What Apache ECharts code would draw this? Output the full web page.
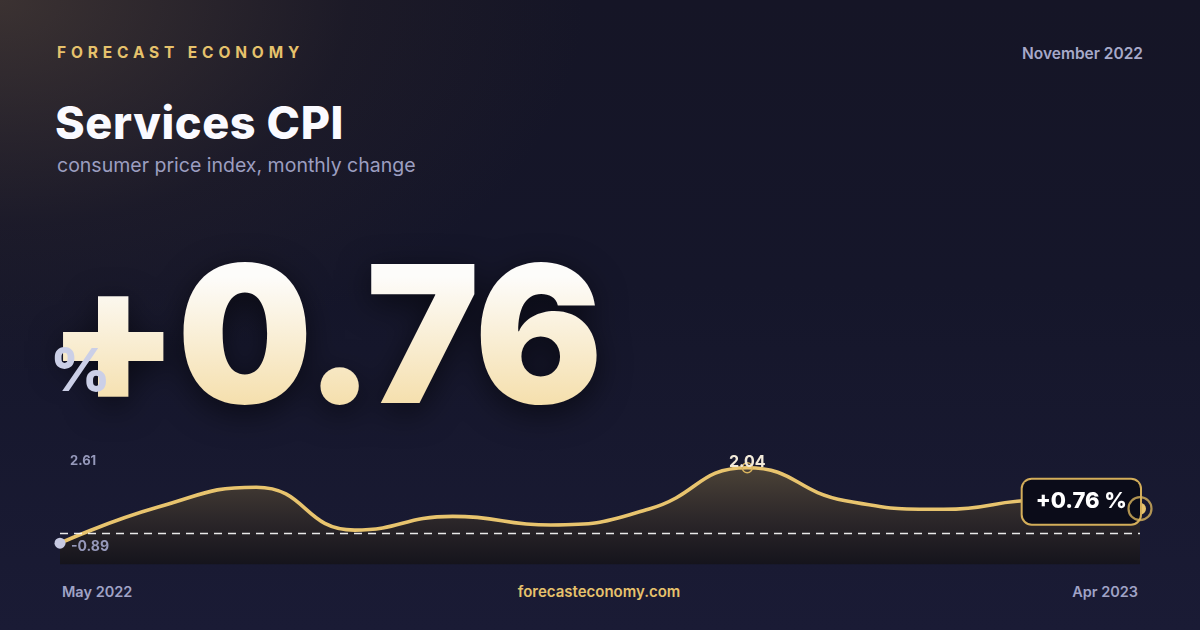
<!DOCTYPE html>
<html>
<head>
<meta charset="utf-8">
<script src="https://cdn.jsdelivr.net/npm/echarts@6/dist/echarts.min.js"></script>
<style>
  html, body { margin:0; padding:0; width:1200px; height:630px; overflow:hidden; }
  body {
    font-family: Inter, "Noto Sans", sans-serif;
    background:
      radial-gradient(ellipse 780px 500px at 0% 0%, rgba(112,90,66,0.42) 0%, rgba(60,48,44,0.18) 45%, rgba(0,0,0,0) 75%),
      linear-gradient(180deg, #151526 0%, #15162a 45%, #1a1b35 100%);
    position: relative;
  }
  .t { position:absolute; white-space:nowrap; }
  #brand { left:57px; top:43px; font-size:15.5px; font-weight:700; letter-spacing:4.85px; color:#e6c26c; }
  #date { right:57px; top:44px; font-size:15.5px; font-weight:600; color:#a7a9c9; }
  #title { left:55px; top:95px; font-size:45px; font-weight:800; color:#fafaff; letter-spacing:0.6px; }
  #sub { left:57px; top:153px; font-size:19.5px; font-weight:400; color:#9c9ec0; }
  #big { left:47px; top:238px; font-size:191px; font-weight:900; line-height:1; letter-spacing:-2.5px;
         background: linear-gradient(180deg, #fdfcfa 20%, #f4dca4 95%);
         -webkit-background-clip:text; background-clip:text; color:transparent;
         filter: drop-shadow(0 8px 16px rgba(0,0,0,0.55)); }
  #pct { left:50px; top:334px; font-size:59px; font-weight:800; color:#cbcfe7; }
  #foot1 { left:62px; top:583px; font-size:14.5px; font-weight:600; color:#a0a3c6; }
  #foot2 { left:599px; top:582px; transform:translateX(-50%); font-size:15px; font-weight:600; color:#e6c26c; }
  #foot3 { right:62px; top:583px; font-size:14.5px; font-weight:600; color:#a0a3c6; }
  #chart { position:absolute; left:0; top:0; width:1200px; height:630px; }
</style>
</head>
<body>
<div class="t" id="brand">FORECAST ECONOMY</div>
<div class="t" id="date">November 2022</div>
<div class="t" id="title">Services CPI</div>
<div class="t" id="sub">consumer price index, monthly change</div>
<div class="t" id="big">+0.76</div>
<div class="t" id="pct">%</div>
<div class="t" id="foot1">May 2022</div>
<div class="t" id="foot2">forecasteconomy.com</div>
<div class="t" id="foot3">Apr 2023</div>
<div id="chart"></div>
<script>
// ---- data ----
const months = ['May 2022','Jun 2022','Jul 2022','Aug 2022','Sep 2022','Oct 2022','Nov 2022','Dec 2022','Jan 2023','Feb 2023','Mar 2023','Apr 2023'];
const values = [-0.32, 0.81, 1.43, 0.09, 0.52, 0.25, 0.75, 2.04, 1.01, 0.74, 1.03, 0.76];
const rangeLabels = ['2.61', '-0.89'];
const lastLabel = '+0.76 %';

const GOLD = '#e8c46e';
const lastIdx = values.length - 1;
const peakIdx = values.indexOf(Math.max.apply(null, values));

const lineData = values.map(function (v, i) {
  if (i === 0) {
    return { value: v, symbol: 'circle', symbolSize: 11,
             itemStyle: { color: '#c6c9e2', borderWidth: 0 } };
  }
  if (i === peakIdx) {
    return { value: v, symbol: 'circle', symbolSize: 10,
             itemStyle: { color: 'rgba(0,0,0,0)', borderColor: '#d9b45e', borderWidth: 1.5 },
             label: { show: true, position: 'inside', offset: [0, -6], formatter: String(v.toFixed(2)),
                      color: '#f2ead9', fontSize: 16, fontWeight: 700, fontFamily: 'Inter' } };
  }
  if (i === lastIdx) {
    return { value: v, symbol: 'circle', symbolSize: 12,
             itemStyle: { color: GOLD, borderWidth: 0 },
             label: { show: true, position: [6, -1], align: 'right', verticalAlign: 'middle',
                      formatter: lastLabel, color: '#ffffff', fontSize: 22, fontWeight: 800,
                      fontFamily: 'Inter', lineHeight: 24, padding: [10, 13, 10, 13],
                      backgroundColor: '#0b0c19', borderColor: '#d4ae5a', borderWidth: 2, borderRadius: 9 } };
  }
  return { value: v, symbol: 'none' };
});

const ringData = values.map(function (v, i) { return i === lastIdx ? v : null; });

const chart = echarts.init(document.getElementById('chart'), null, { renderer: 'canvas' });
chart.setOption({
  backgroundColor: 'transparent',
  animation: false,
  grid: { left: 60, right: 60, top: 449.5, bottom: 65.7 },
  xAxis: { type: 'category', data: months, boundaryGap: false, show: false },
  yAxis: { type: 'value', min: -0.98, max: 2.61, show: false },
  graphic: [
    { type: 'text', left: 70, top: 455, z: 10,
      style: { text: rangeLabels[0], fill: '#9598ba', font: '700 13px Inter' } },
    { type: 'text', left: 71, top: 540, z: 10,
      style: { text: rangeLabels[1], fill: '#9598ba', font: '700 14px Inter' } }
  ],
  series: [
    {
      type: 'line',
      data: lineData,
      smooth: 0.5,
      symbol: 'none',
      showSymbol: true,
      z: 3,
      lineStyle: { color: GOLD, width: 3.6 },
      areaStyle: {
        origin: 'start',
        opacity: 1,
        color: new echarts.graphic.LinearGradient(0, 0, 0, 1, [
          { offset: 0, color: '#4b4237' },
          { offset: 0.55, color: '#2b2629' },
          { offset: 1, color: '#15141c' }
        ])
      },
      markLine: {
        silent: true,
        symbol: 'none',
        label: { show: false },
        lineStyle: { color: 'rgba(255,255,255,0.9)', type: [8, 6], width: 1.4 },
        data: [{ yAxis: 0 }]
      }
    },
    {
      type: 'scatter',
      data: ringData,
      symbol: 'circle',
      symbolSize: 23,
      z: 5,
      itemStyle: { color: 'rgba(0,0,0,0)', borderColor: '#d9b45e', borderWidth: 2.2 }
    }
  ]
});
</script>
</body>
</html>
